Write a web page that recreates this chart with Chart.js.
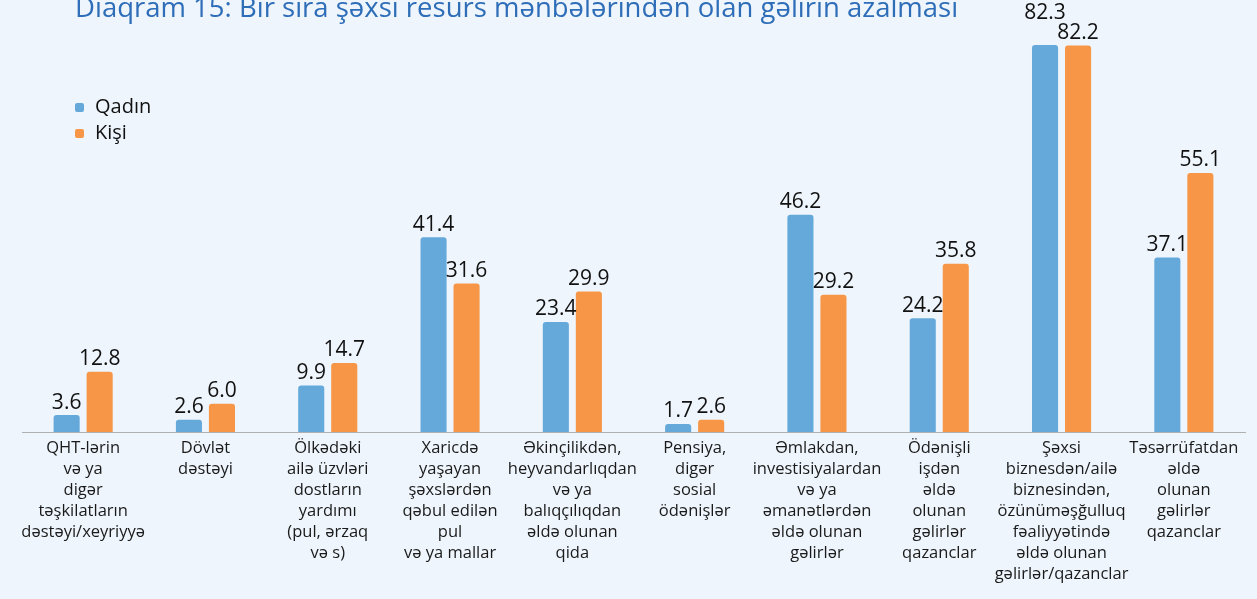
<!DOCTYPE html>
<html>
<head>
<meta charset="utf-8">
<script src="https://cdn.jsdelivr.net/npm/chart.js@4.4.1/dist/chart.umd.min.js"></script>
<style>
    html, body { margin: 0; padding: 0; background: #eef5fc; }
    #wrap { position: relative; width: 1257px; height: 599px; overflow: hidden; }
    #title { position: absolute; left: 75px; top: -12px; font-family: "Open Sans", sans-serif; font-size: 27.5px; color: #2e6db8; white-space: nowrap; }
    #legend { position: absolute; left: 75px; top: 93px; font-family: "Open Sans", sans-serif; font-size: 20px; color: #111; }
    #legend div { height: 26px; line-height: 26px; }
    #legend span { display: inline-block; width: 9px; height: 9px; border-radius: 2px; margin-right: 11px; vertical-align: 1px; }
</style>
</head>
<body>
<div id="wrap">
    <canvas id="chart" width="1257" height="599"></canvas>
    <div id="title">Diaqram 15: Bir sıra şəxsi resurs mənbələrindən olan gəlirin azalması</div>
    <div id="legend"></div>
</div>
<script>
let categories = [
    ['QHT-lərin', 'və ya', 'digər', 'təşkilatların', 'dəstəyi/xeyriyyə'],
    ['Dövlət', 'dəstəyi'],
    ['Ölkədəki', 'ailə üzvləri', 'dostların', 'yardımı', '(pul, ərzaq', 'və s)'],
    ['Xaricdə', 'yaşayan', 'şəxslərdən', 'qəbul edilən', 'pul', 'və ya mallar'],
    ['Əkinçilikdən,', 'heyvandarlıqdan', 'və ya', 'balıqçılıqdan', 'əldə olunan', 'qida'],
    ['Pensiya,', 'digər', 'sosial', 'ödənişlər'],
    ['Əmlakdan,', 'investisiyalardan', 'və ya', 'əmanətlərdən', 'əldə olunan', 'gəlirlər'],
    ['Ödənişli', 'işdən', 'əldə', 'olunan', 'gəlirlər', 'qazanclar'],
    ['Şəxsi', 'biznesdən/ailə', 'biznesindən,', 'özünüməşğulluq', 'fəaliyyətində', 'əldə olunan', 'gəlirlər/qazanclar'],
    ['Təsərrüfatdan', 'əldə', 'olunan', 'gəlirlər', 'qazanclar']
];
let seriesNames = ['Qadın', 'Kişi'];
let women = [3.6, 2.6, 9.9, 41.4, 23.4, 1.7, 46.2, 24.2, 82.3, 37.1];
let men = [12.8, 6.0, 14.7, 31.6, 29.9, 2.6, 29.2, 35.8, 82.2, 55.1];
let colors = ['#65a9da', '#f79646'];

let font = '"Open Sans", sans-serif';

// legend
let legend = document.getElementById('legend');
seriesNames.forEach((name, i) => {
    legend.insertAdjacentHTML('beforeend', `<div><span style="background:${colors[i]}"></span>${name}</div>`);
});

// value labels over the bars, lifting one of a pair if they collide
let valueLabels = {
    id: 'valueLabels',
    afterDatasetsDraw(chart) {
        let ctx = chart.ctx;
        ctx.save();
        ctx.font = '21px ' + font;
        ctx.fillStyle = '#111';
        ctx.textAlign = 'center';
        ctx.textBaseline = 'bottom';
        let m0 = chart.getDatasetMeta(0);
        let m1 = chart.getDatasetMeta(1);
        categories.forEach((c, i) => {
            let b0 = m0.data[i], b1 = m1.data[i];
            let t0 = chart.data.datasets[0].data[i].toFixed(1);
            let t1 = chart.data.datasets[1].data[i].toFixed(1);
            let y0 = b0.y - 2, y1 = b1.y - 2;
            let w0 = ctx.measureText(t0).width, w1 = ctx.measureText(t1).width;
            let overlapX = (b0.x + w0 / 2) > (b1.x - w1 / 2);
            if (overlapX && Math.abs(y0 - y1) < 20) {
                if (y0 <= y1) y0 = y1 - 20; else y1 = y0 - 20;
            }
            ctx.fillText(t0, b0.x, y0);
            ctx.fillText(t1, b1.x, y1);
        });
        ctx.restore();
    }
};

new Chart(document.getElementById('chart'), {
    type: 'bar',
    data: {
        labels: categories,
        datasets: [
            { label: seriesNames[0], data: women, backgroundColor: colors[0], borderRadius: 3 },
            { label: seriesNames[1], data: men, backgroundColor: colors[1], borderRadius: 3 }
        ]
    },
    options: {
        responsive: false,
        animation: false,
        layout: { padding: { left: 22, right: 12, top: 45, bottom: 0 } },
        categoryPercentage: 0.54,
        barPercentage: 0.79,
        plugins: {
            legend: { display: false },
            tooltip: { enabled: false }
        },
        scales: {
            x: {
                grid: { display: false, drawTicks: false },
                border: { display: true, color: '#b0b0b0', width: 1 },
                ticks: {
                    autoSkip: false,
                    maxRotation: 0,
                    padding: 6,
                    color: '#1a1a1a',
                    font: { family: font, size: 16.5, lineHeight: 1.27 }
                },
                afterFit: s => { s.height = 167; }
            },
            y: {
                display: false,
                min: 0,
                max: 82.3
            }
        }
    },
    plugins: [valueLabels]
});
</script>
</body>
</html>
